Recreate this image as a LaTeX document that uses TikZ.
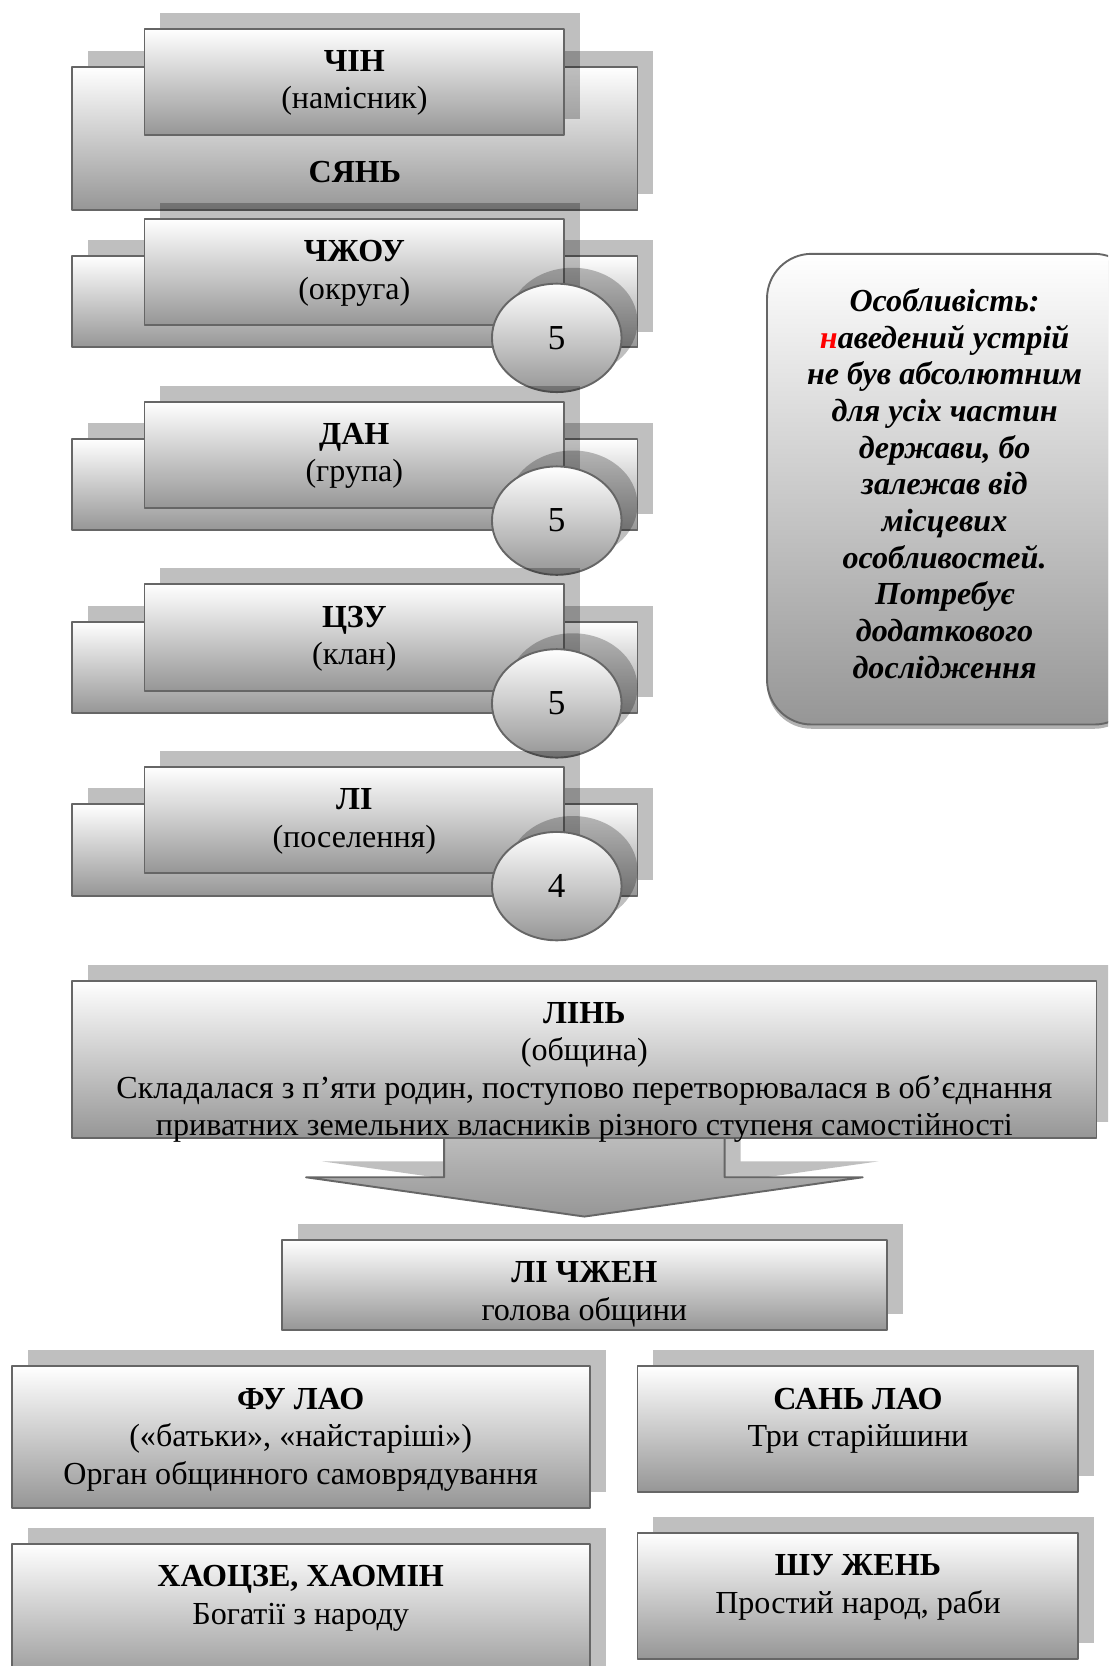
\documentclass[tikz,border=0pt]{standalone}
\usepackage{fontspec}
\setmainfont{Liberation Serif}
\usetikzlibrary{shapes.geometric,shadows,positioning}
\definecolor{edgegray}{RGB}{102,102,102}
\definecolor{lowgray}{RGB}{150,150,150}
\tikzset{
  every node/.style={font=\fontsize{15.1}{17.6}\selectfont},
  shadowed/.style={drop shadow={shadow xshift=7.5pt, shadow yshift=7.5pt,
    fill=black, opacity=.25}},
  box/.style={shadowed, rectangle, draw=edgegray, line width=0.9pt,
    top color=white, bottom color=lowgray, inner sep=0pt, outer sep=0pt,
    anchor=north west},
  numdot/.style={shadowed, ellipse, draw=edgegray, line width=0.9pt,
    top color=white, bottom color=lowgray, minimum width=61pt,
    minimum height=51pt, inner sep=0pt, font=\fontsize{16.5}{19}\selectfont},
  boxtext/.style={align=center, anchor=north, inner sep=0pt,
    execute at begin node=\strut},
  callout/.style={rectangle, rounded corners=21pt, draw=edgegray,
    line width=0.9pt, top color=white, bottom color=lowgray, inner sep=0pt,
    anchor=north west, drop shadow={shadow xshift=0pt, shadow yshift=-2pt,
    fill=black, opacity=.3}}
}

\begin{document}
\begin{tikzpicture}[x=0.5pt, y=-0.5pt, line join=round]
  \useasboundingbox (0,0) rectangle (1043,1568);
  \clip (0,0) rectangle (1043,1568);

  % administrative levels
  \node (back0) [box, minimum width=266pt, minimum height=67.5pt] at (68,63) {};
  \node (front0) [box, minimum width=197.5pt, minimum height=50pt] at (136,27) {};
  \node (title0) [boxtext] at ([yshift=-10pt]front0.north)
    {\textbf{ЧІН}\\(намісник)};
  \node (syan) [font=\fontsize{15.1}{17.6}\selectfont\bfseries] at (334,162) {СЯНЬ};

  \foreach \hd/\gl/\cnt [count=\k] in {ЧЖОУ/округа/5, ДАН/група/5,
      ЦЗУ/клан/5, ЛІ/поселення/4} {
    \node (back\k) [box, minimum width=266pt, minimum height=43pt]
      at (68,{69+172*\k}) {};
    \node (front\k) [box, minimum width=197.5pt, minimum height=50pt]
      at (136,{34+172*\k}) {};
    \node (title\k) [boxtext] at ([yshift=-10pt]front\k.north)
      {\textbf{\hd}\\(\gl)};
    \node (num\k) [numdot] at (524,{146+172*\k}) {\cnt};
  }

  \node (note) [callout, minimum width=175pt, minimum height=221.5pt]
    at (721,238) {};
  \node (notetext) [font=\fontsize{15.1}{17.25}\selectfont\bfseries\itshape,
    align=center] at (889,455)
    {Особливість:\\\textcolor{red}{н}аведений устрій\\не був абсолютним\\
     для усіх частин\\держави, бо\\залежав від\\місцевих\\особливостей.\\
     Потребує\\додаткового\\дослідження};

  % community
  \path[shadowed, draw=edgegray, line width=0.9pt, top color=white,
    bottom color=lowgray] (418,940) -- (682,940) -- (682,1108) -- (812,1108)
    -- (550,1145) -- (288,1108) -- (418,1108) -- cycle;
  \node (lin) [box, minimum width=482pt, minimum height=74pt] at (68,923) {};
  \node (lintext) [boxtext] at ([yshift=-10pt]lin.north)
    {\textbf{ЛІНЬ}\\(община)\\Складалася з п’яти родин, поступово
     перетворювалася в об’єднання\\приватних земельних власників різного
     ступеня самостійності};

  \node (lizhen) [box, minimum width=285pt, minimum height=42.5pt] at (265,1167) {};
  \node (lizhentext) [boxtext] at ([yshift=-10pt]lizhen.north)
    {\textbf{ЛІ ЧЖЕН}\\голова общини};

  \node (fulao) [box, minimum width=272pt, minimum height=66.5pt] at (11,1286) {};
  \node (fulaotext) [boxtext] at ([yshift=-10pt]fulao.north)
    {\textbf{ФУ ЛАО}\\(«батьки», «найстаріші»)\\Орган общинного самоврядування};
  \node (sanlao) [box, minimum width=207.5pt, minimum height=59pt] at (600,1286) {};
  \node (sanlaotext) [boxtext] at ([yshift=-10pt]sanlao.north)
    {\textbf{САНЬ ЛАО}\\Три старійшини};
  \node (haocze) [box, minimum width=272pt, minimum height=66.5pt] at (11,1453) {};
  \node (haoczetext) [boxtext] at ([yshift=-10pt]haocze.north)
    {\textbf{ХАОЦЗЕ, ХАОМІН}\\Богатії з народу};
  \node (shuzhen) [box, minimum width=207.5pt, minimum height=59pt] at (600,1443) {};
  \node (shuzhentext) [boxtext] at ([yshift=-10pt]shuzhen.north)
    {\textbf{ШУ ЖЕНЬ}\\Простий народ, раби};
\end{tikzpicture}
\end{document}
